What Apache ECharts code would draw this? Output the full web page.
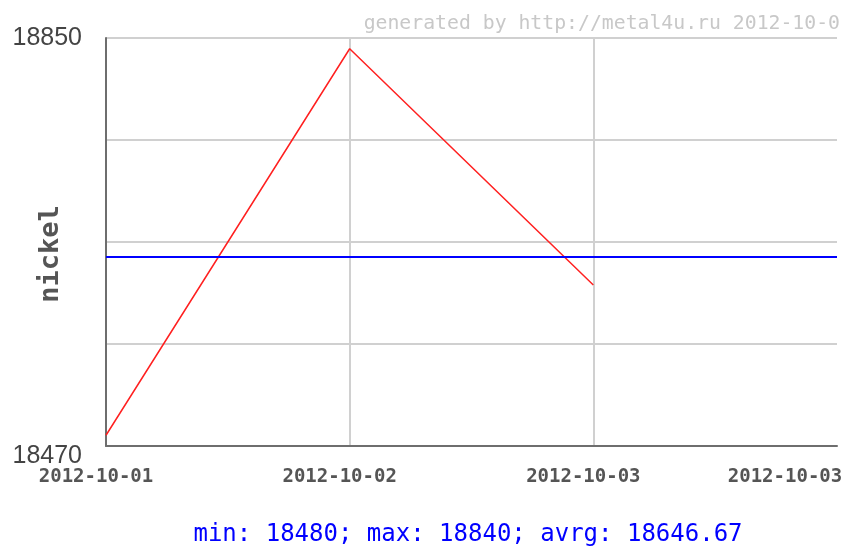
<!DOCTYPE html>
<html>
<head>
<meta charset="utf-8">
<script src="https://cdn.jsdelivr.net/npm/echarts@6/dist/echarts.min.js"></script>
<style>
html,body{margin:0;padding:0;background:#fff;}
#chart{width:847px;height:546px;}
</style>
</head>
<body>
<div id="chart"></div>
<script>
// Data
const categories = ['2012-10-01', '2012-10-02', '2012-10-03', '2012-10-03'];
const nickelValues = [18480, 18840, 18620];
const yMin = 18470;
const yMax = 18850;
const minVal = 18480;
const maxVal = 18840;
const avgVal = 18646.67;
const seriesName = 'nickel';
const creditText = 'generated by http://metal4u.ru 2012-10-0';

const chart = echarts.init(document.getElementById('chart'), null, {renderer: 'canvas'});
const mono = '"DejaVu Sans Mono", "Liberation Mono", monospace';

const option = {
  animation: false,
  backgroundColor: '#ffffff',
  title: {
    text: creditText,
    right: 2,
    top: 9,
    textStyle: {fontFamily: mono, fontSize: 19.8, fontWeight: 'normal', color: '#c8c8c8'}
  },
  grid: {left: 106, top: 38, right: 10, bottom: 100, containLabel: false, outerBoundsMode: 'none'},
  xAxis: {
    type: 'category',
    data: categories,
    boundaryGap: false,
    axisLine: {show: true, lineStyle: {color: '#6e6e6e', width: 2}},
    axisTick: {show: false},
    splitLine: {
      show: true,
      interval: function (index) { return index === 1 || index === 2; },
      lineStyle: {color: '#d0d0d0', width: 2}
    },
    axisLabel: {
      interval: 0,
      margin: 22,
      formatter: function (v, i) {
        return i === categories.length - 1 ? '{r|' + v + '}' : '{n|' + v + '}';
      },
      rich: {
        n: {fontFamily: mono, fontSize: 19, fontWeight: 'bold', color: '#555', padding: [0, 20, 0, 0]},
        r: {fontFamily: mono, fontSize: 19, fontWeight: 'bold', color: '#555', padding: [0, 104, 0, 0]}
      }
    }
  },
  yAxis: [{
    type: 'value',
    min: yMin,
    max: yMax,
    name: seriesName,
    nameLocation: 'middle',
    nameRotate: 90,
    nameGap: 42,
    nameMoveOverlap: false,
    nameTextStyle: {fontFamily: mono, fontSize: 27, fontWeight: 'bold', color: '#555', padding: [0, 24, 0, 0]},
    axisLine: {show: true, lineStyle: {color: '#6e6e6e', width: 2}},
    axisTick: {show: false},
    splitLine: {show: false},
    axisLabel: {
      showMinLabel: true,
      showMaxLabel: true,
      margin: 24,
      formatter: function (v) {
        if (v === yMin) return '{lo|' + v + '}';
        if (v === yMax) return '{hi|' + v + '}';
        return '';
      },
      rich: {
        lo: {fontFamily: '"Liberation Sans", Arial, sans-serif', fontSize: 25, color: '#444', padding: [20, 0, 0, 0]},
        hi: {fontFamily: '"Liberation Sans", Arial, sans-serif', fontSize: 25, color: '#444'}
      }
    }
  }, {
    type: 'value',
    min: 0,
    max: 4,
    interval: 1,
    position: 'right',
    axisLine: {show: false},
    axisTick: {show: false},
    axisLabel: {show: false},
    splitLine: {show: true, lineStyle: {color: '#d0d0d0', width: 2}}
  }],
  series: [{
    name: seriesName,
    type: 'line',
    yAxisIndex: 0,
    data: nickelValues,
    symbol: 'none',
    lineStyle: {color: '#ff2020', width: 1.5},
    itemStyle: {color: '#ff2020'},
    markLine: {
      silent: true,
      symbol: ['none', 'none'],
      label: {show: false},
      lineStyle: {color: '#0000ff', width: 2, type: 'solid'},
      data: [{yAxis: avgVal}]
    }
  }],
  graphic: [{
    type: 'text',
    x: 468,
    y: 523,
    style: {
      text: 'min: ' + minVal + '; max: ' + maxVal + '; avrg: ' + avgVal.toFixed(2),
      font: '24px ' + mono,
      fill: '#0000ff',
      align: 'center',
      verticalAlign: 'top'
    }
  }]
};
chart.setOption(option);
</script>
</body>
</html>
